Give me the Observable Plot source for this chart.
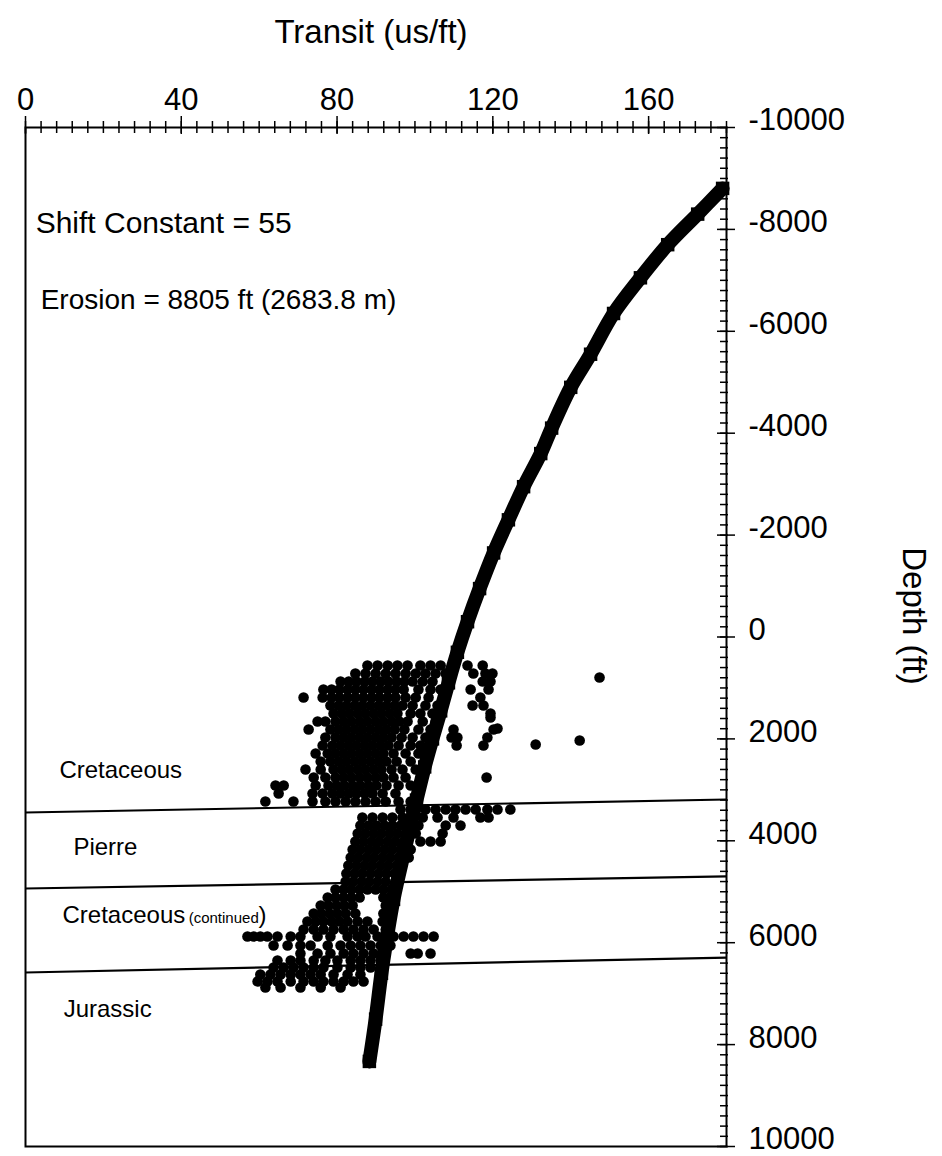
<!DOCTYPE html>
<html><head><meta charset="utf-8">
<script src="https://cdn.jsdelivr.net/npm/d3@7"></script>
<script src="https://cdn.jsdelivr.net/npm/@observablehq/plot@0.6"></script>
<style>body{margin:0;background:#fff} #chart svg{display:block}</style>
</head><body><div id="chart"></div>
<script>
// ---- axis ticks ----
const transitTicks = [0, 40, 80, 120, 160];
const depthTicks = [-10000, -8000, -6000, -4000, -2000, 0, 2000, 4000, 6000, 8000, 10000];

// ---- compaction trend (square markers) ----
const curveDepth = [-8805, -8300, -7700, -7050, -6350, -5550, -4900, -4100, -3600, -2950, -2300, -1650, -950, -300, 300, 900, 1450, 2000, 2550, 3200, 4200, 5150, 5950, 6600, 7500, 8330];
const curveTransit = [179.0, 172.6, 164.9, 157.9, 151.0, 145.1, 140.0, 135.1, 132.3, 127.9, 124.0, 120.2, 116.6, 113.5, 110.9, 108.6, 106.6, 104.5, 102.5, 100.4, 97.3, 94.5, 92.7, 91.4, 89.9, 88.3];

// ---- sonic log readings: [depth ft, [transit us/ft ...]] ----
const cretaceousRows = [
 [559, [87.8, 90.4, 93.0, 95.5, 98.1, 101.4, 104.0, 106.6, 113.5, 117.4]],
 [716, [84.7, 87.3, 89.9, 92.5, 95.0, 97.6, 100.2, 102.7, 105.3, 107.9, 115.0, 118.1, 119.9]],
 [873, [80.9, 83.0, 85.0, 87.1, 89.1, 91.2, 93.2, 95.3, 97.3, 99.4, 102.0, 104.5, 117.4, 119.4]],
 [1030, [76.5, 78.6, 80.6, 82.7, 84.7, 86.8, 88.9, 90.9, 93.0, 95.0, 97.1, 100.9, 104.0, 106.6, 114.3, 118.9]],
 [1187, [71.4, 76.3, 78.6, 80.6, 82.7, 84.7, 86.8, 88.9, 90.9, 93.0, 95.0, 97.6, 100.2, 103.5, 116.8]],
 [1344, [78.3, 80.4, 82.4, 84.5, 86.5, 88.6, 90.7, 92.7, 94.8, 96.8, 99.4, 102.7, 105.8, 114.8, 117.6]],
 [1501, [79.1, 81.2, 83.2, 85.3, 87.3, 89.4, 91.4, 93.5, 95.5, 98.9, 101.4, 104.5, 119.4]],
 [1580, [119.4]],
 [1658, [75.0, 77.0, 79.6, 81.7, 83.7, 85.8, 87.8, 89.9, 91.9, 94.0, 96.0, 98.1, 102.0, 105.3]],
 [1796, [121.2]],
 [1815, [72.7, 78.3, 80.4, 82.4, 84.5, 86.5, 88.6, 90.7, 92.7, 94.8, 97.3, 100.9, 104.0, 109.9, 120.2]],
 [1973, [77.0, 79.6, 81.7, 83.7, 85.8, 87.8, 89.9, 91.9, 94.0, 96.6, 99.4, 102.7, 109.4, 110.9, 118.6]],
 [2130, [76.3, 78.8, 80.9, 83.0, 85.0, 87.1, 89.1, 91.2, 93.2, 95.8, 98.9, 101.4, 110.7, 117.6]],
 [2287, [74.5, 77.6, 79.6, 81.7, 83.7, 85.8, 87.8, 89.9, 91.9, 94.5, 97.6, 100.9]],
 [2444, [75.8, 78.3, 80.4, 82.4, 84.5, 86.5, 88.6, 90.7, 92.7, 95.3, 98.9]],
 [2601, [71.9, 75.8, 79.1, 81.2, 83.2, 85.3, 87.3, 89.4, 91.4, 94.0, 96.8, 100.2]],
 [2757, [74.0, 77.0, 79.6, 81.7, 83.7, 85.8, 87.8, 89.9, 91.9, 94.5, 97.6, 118.4]],
 [2915, [64.2, 66.3, 74.5, 77.8, 79.9, 81.9, 84.0, 86.0, 88.1, 90.1, 92.7, 95.8, 98.9]],
 [3072, [65.0, 73.7, 76.3, 78.8, 80.9, 83.0, 85.0, 87.1, 89.1, 91.7, 95.0]],
 [3229, [61.6, 68.8, 73.7, 77.0, 79.6, 82.2, 84.7, 87.3, 89.9, 92.5, 95.8, 98.9]]
];
const outlierTransit = [147.4, 142.3, 131.0];
const outlierDepth = [795, 2031, 2110];
const pierreRows = [
 [3386, [96.3, 98.9, 102.7, 105.3, 107.9, 110.4, 113.0, 115.6, 118.6, 121.2, 124.5]],
 [3543, [86.5, 89.1, 91.7, 94.2, 96.8, 99.4, 102.0, 105.8, 109.9, 116.8, 118.9]],
 [3700, [86.0, 88.1, 90.1, 92.2, 94.2, 96.3, 98.4, 100.9, 107.9, 111.7]],
 [3857, [85.3, 87.3, 89.4, 91.4, 93.5, 95.5, 97.6, 100.2, 107.1]],
 [4014, [84.7, 86.8, 88.9, 90.9, 93.0, 95.0, 97.1, 101.4, 104.0, 106.6]],
 [4170, [84.0, 86.0, 88.1, 90.1, 92.2, 94.2, 96.3, 98.9]],
 [4328, [83.5, 85.5, 87.6, 89.6, 91.7, 93.7, 95.8, 98.4]],
 [4485, [82.9, 85.0, 87.1, 89.1, 91.2, 93.2, 95.3]],
 [4642, [82.4, 84.5, 86.5, 88.6, 90.7, 92.7, 94.8]],
 [4799, [82.2, 84.2, 86.3, 88.3, 90.4, 92.5]]
];
const cretContRows = [
 [4956, [79.6, 81.7, 83.7, 85.8, 87.8, 89.9, 91.9, 94.0]],
 [5113, [77.6, 79.6, 81.7, 83.7, 85.8, 91.9, 94.0]],
 [5270, [75.8, 77.8, 79.9, 81.9, 84.0, 92.5]],
 [5427, [74.0, 76.0, 78.1, 80.1, 82.2, 84.7, 91.9]],
 [5584, [72.4, 74.5, 76.5, 78.6, 80.6, 82.7, 85.3, 87.8, 91.7]],
 [5741, [71.4, 74.0, 76.5, 79.1, 81.7, 84.2, 86.8, 89.4, 92.5]],
 [5878, [57.0, 58.6, 60.3, 62.1, 64.7, 68.1, 70.6, 75.0, 78.3, 82.7, 85.3, 87.3, 90.4, 93.0, 94.5, 97.1, 99.6, 102.2, 104.8]],
 [6055, [63.7, 67.3, 70.6, 73.2, 77.6, 80.9, 83.5, 86.0, 88.6, 91.2, 93.7]],
 [6212, [70.6, 75.0, 78.3, 81.7, 84.2, 86.8, 89.4, 98.9, 100.7, 104.0]],
 [6349, [64.7, 68.1, 70.6, 74.0, 77.0, 80.1, 83.5, 86.0, 88.6, 91.2]]
];
const jurassicRows = [
 [6486, [63.7, 66.3, 68.8, 71.4, 74.0, 76.5, 80.1, 83.5, 86.0, 88.6]],
 [6624, [60.3, 62.9, 65.5, 68.1, 70.6, 73.2, 75.8, 79.1, 82.7, 86.0]],
 [6761, [59.6, 62.1, 64.7, 68.1, 71.4, 74.0, 76.5, 79.1, 81.7, 84.2, 86.8]],
 [6879, [61.6, 65.5, 70.6, 75.8, 80.9]]
];

// ---- formation boundaries (depth at transit 0 and at transit 180) ----
const boundaryLeftDepth = [3445, 4936, 6585];
const boundaryRightDepth = [3189, 4700, 6291];

// ---- labels ----
const formationNames = ["Cretaceous", "Pierre", "Cretaceous", "Jurassic"];
const formationLabelTransit = [8.7, 12.3, 9.5, 9.8];
const formationLabelDepth = [2777, 4269, 5604, 7468];
const noteTexts = ["Shift Constant = 55", "Erosion = 8805 ft (2683.8 m)"];
const noteTransit = [2.6, 3.9];
const noteDepth = [-7920, -6447];
const noteSizes = [30, 28];

// ---- build tables ----
const rowsToPoints = rows => rows.flatMap(([d, ts]) => ts.map(t => ({t, d})));
const logPoints = [
  ...rowsToPoints(cretaceousRows),
  ...outlierTransit.map((t, i) => ({t, d: outlierDepth[i]})),
  ...rowsToPoints(pierreRows),
  ...rowsToPoints(cretContRows),
  ...rowsToPoints(jurassicRows)
];
const curve = curveDepth.map((d, i) => ({t: curveTransit[i], d}));
const boundaries = boundaryLeftDepth.map((l, i) => ({l, r: boundaryRightDepth[i]}));
const formations = formationNames.map((name, i) => ({name, t: formationLabelTransit[i], d: formationLabelDepth[i]}));
const notes = noteTexts.map((text, i) => ({text, t: noteTransit[i], d: noteDepth[i], s: noteSizes[i]}));

const W = 942, H = 1156, mL = 25, mR = 216, mT = 127, mB = 10;
const plotW = W - mL - mR, plotH = H - mT - mB;
const minorX = d3.range(0, 181, 4);
const minorY = d3.range(-10000, 10001, 200);
const fmt = d => String(d);

const chart = Plot.plot({
  width: W, height: H,
  marginLeft: mL, marginRight: mR, marginTop: mT, marginBottom: mB,
  style: {fontFamily: "'Liberation Sans', Arial, sans-serif", color: "#000", background: "#fff"},
  x: {domain: [0, 180], axis: null},
  y: {domain: [-10000, 10000], reverse: true, axis: null},
  marks: [
    // ticks crossing the top axis
    Plot.tickX(minorX, {x: d => d, insetTop: -6, insetBottom: plotH - 6, stroke: "#000", strokeWidth: 1.5}),
    Plot.tickX(transitTicks, {x: d => d, insetTop: -11, insetBottom: plotH - 7, stroke: "#000", strokeWidth: 1.5}),
    // ticks on the right axis
    Plot.tickY(minorY, {y: d => d, insetLeft: plotW - 6, insetRight: -2, stroke: "#000", strokeWidth: 1.5}),
    Plot.tickY(depthTicks, {y: d => d, insetLeft: plotW - 9, insetRight: -9, stroke: "#000", strokeWidth: 1.5}),
    Plot.frame({stroke: "#000", strokeWidth: 2}),
    Plot.axisX({anchor: "top", ticks: transitTicks, tickSize: 0, tickPadding: 18, tickFormat: fmt, fontSize: 31, label: null}),
    Plot.axisY({anchor: "right", ticks: depthTicks, tickSize: 0, tickPadding: 22, dy: -7, tickFormat: fmt, fontSize: 31, label: null}),
    Plot.text(["Transit (us/ft)"], {frameAnchor: "top", dx: -5, dy: -85, lineAnchor: "bottom", fontSize: 33, fill: "#000"}),
    Plot.text(["Depth (ft)"], {frameAnchor: "right", dx: 187, dy: -21, rotate: 90, textAnchor: "middle", lineAnchor: "middle", fontSize: 33, fill: "#000"}),
    // formation boundaries
    Plot.link(boundaries, {x1: () => 0, x2: () => 180, y1: "l", y2: "r", stroke: "#000", strokeWidth: 2.2}),
    // sonic log
    Plot.dot(logPoints, {x: "t", y: "d", r: 5.3, fill: "#000"}),
    // trend
    Plot.line(curve, {x: "t", y: "d", stroke: "#000", strokeWidth: 14, curve: "catmull-rom"}),
    Plot.dot(curve, {x: "t", y: "d", symbol: "square", r: 7.6, fill: "#000"}),
    // labels
    Plot.text(formations, {x: "t", y: "d", text: "name", textAnchor: "start", lineAnchor: "bottom", fontSize: 24, fill: "#000"}),
    Plot.text(["(continued"], {x: () => 41.9, y: () => 5604, textAnchor: "start", lineAnchor: "bottom", fontSize: 15, fill: "#000"}),
    Plot.text([")"], {x: () => 59.8, y: () => 5604, textAnchor: "start", lineAnchor: "bottom", fontSize: 24, fill: "#000"}),
    Plot.text(notes, {x: "t", y: "d", text: "text", textAnchor: "start", lineAnchor: "bottom", fontSize: "s", fill: "#000"})
  ]
});
document.getElementById("chart").append(chart);
</script>
</body></html>
